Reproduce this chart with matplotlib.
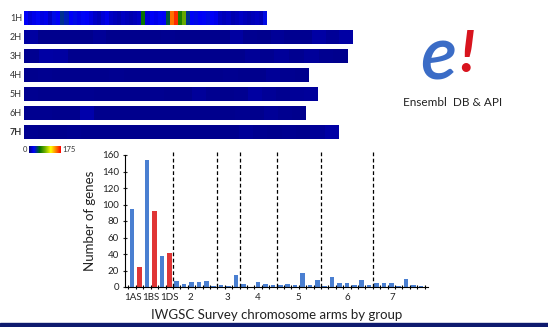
import matplotlib.pyplot as plt
import numpy as np
from matplotlib.cm import ScalarMappable
from matplotlib.colors import LinearSegmentedColormap, Normalize
from matplotlib.patches import Rectangle

plt.rcParams['font.family'] = ['Lato', 'DejaVu Sans']

# gene density strips (bins along each barley chromosome, scale 0-175)
strip_names = ['1H', '2H', '3H', '4H', '5H', '6H', '7H']
strip_lengths = [243, 329, 324, 285, 294, 282, 315]
density_1h = [25, 18, 22, 28, 20, 22, 15, 30, 25, 40, 35, 25, 30, 22, 28, 25, 20, 15, 12, 18,
              22, 15, 12, 10, 14, 12, 10, 12, 15, 60, 18, 25, 22, 28, 25, 50, 150, 165, 65, 85,
              40, 28, 30, 25, 28, 30, 25, 22, 15, 12, 14, 10, 12, 15, 12, 10, 12, 14, 12, 30]
density_2h = [7, 3, 3, 3, 3, 5, 3, 3, 3, 3, 4, 3, 3, 3, 3, 7, 4, 3, 5, 4, 4, 8, 5, 8]
density_3h = [4, 8, 7, 3, 3, 3, 3, 3, 3, 3, 3, 3, 3, 3, 3, 5, 4, 6, 4, 6, 4, 3]
density_4h = [3, 4, 3, 3, 3, 3, 4, 3, 3, 3, 3, 3, 3, 3, 4, 3, 3, 5, 4, 3]
density_5h = [4, 3, 3, 3, 4, 3, 3, 3, 3, 4, 3, 3, 6, 4, 3, 4, 7, 5, 4, 5, 6]
density_6h = [4, 4, 3, 3, 9, 3, 3, 3, 3, 3, 3, 3, 3, 3, 3, 4, 3, 5, 4, 3]
density_7h = [4, 3, 3, 4, 3, 3, 3, 3, 3, 3, 3, 3, 3, 3, 3, 5, 4, 3, 4, 3, 5, 8]
density_max = 175

# genes per IWGSC survey chromosome arm
arm_1d_blue = [95, 154, 38]
arm_1d_red = [24, 92, 41]
group_2 = [7, 4, 6, 6, 7, 1]
group_3 = [2, 1, 14]
group_4 = [4, 0.5, 6, 4, 2]
group_5 = [2, 4, 2, 17, 2, 9]
group_6 = [1, 12, 5, 5, 2, 8, 2]
group_7 = [5, 5, 5, 1, 10, 2, 1]
group_labels = ['1AS', '1BS', '1DS', '2', '3', '4', '5', '6', '7']
group_label_pos = [0.1, 2.45, 5.05, 7.9, 12.9, 16.9, 22.4, 29.1, 35.1]

cmap = LinearSegmentedColormap.from_list(
    'density',
    [(0.0, '#000080'), (0.15, '#0000ff'), (0.33, '#007000'), (0.5, '#70b000'),
     (0.68, '#ffff00'), (0.84, '#ff8000'), (1.0, '#ff0000')],
)
BLUE = '#4a7fd1'
RED = '#e03535'

fig = plt.figure(figsize=(5.48, 3.27), dpi=100)

# overlay in pixel units for the strips, logo and footer band
ax_top = fig.add_axes([0, 0, 1, 1])
densities = [density_1h, density_2h, density_3h, density_4h, density_5h, density_6h, density_7h]
for i, (name, vals, length) in enumerate(zip(strip_names, densities, strip_lengths)):
    top = 11 + 19 * i
    ax_top.imshow(np.array(vals, dtype=float)[None, :], cmap=cmap, vmin=0, vmax=density_max,
                  aspect='auto', interpolation='nearest',
                  extent=(24, 24 + length, top + 14, top))
    ax_top.text(22, top + 7.5, name, ha='right', va='center', fontsize=6.5, color='#333333',
                fontweight='bold' if name == '7H' else 'normal')

ax_top.text(27.5, 149.5, '0', ha='right', va='center', fontsize=5.5, color='#333333')
ax_top.text(62, 149.5, str(density_max), ha='left', va='center', fontsize=5.5, color='#333333')

ax_top.text(438, 58, 'e', ha='center', va='center', fontsize=54, fontstyle='italic',
            fontweight='semibold', color='#3b6cc6')
ax_top.text(467, 56, '!', ha='center', va='center', fontsize=42, fontstyle='italic',
            fontweight='bold', color='#d8141e')
ax_top.text(453, 102, 'Ensembl  DB & API', ha='center', va='center', fontsize=8.5,
            color='#222222')

ax_top.add_patch(Rectangle((0, 323), 548, 4, color='#0e1a6e'))
ax_top.set_xlim(0, 548)
ax_top.set_ylim(327, 0)
ax_top.axis('off')

# colour scale
cax = fig.add_axes([29 / 548, 1 - 153 / 327, 32 / 548, 7 / 327])
cb = fig.colorbar(ScalarMappable(Normalize(0, density_max), cmap), cax=cax,
                  orientation='horizontal')
cb.set_ticks([])
cb.outline.set_visible(False)

# bar chart
ax = fig.add_axes([125 / 548, 1 - 287 / 327, 303 / 548, 132 / 327])
ax.bar(np.arange(0, 6, 2), arm_1d_blue, width=0.62, color=BLUE)
ax.bar(np.arange(1, 6, 2), arm_1d_red, width=0.62, color=RED)

groups = [group_2, group_3, group_4, group_5, group_6, group_7]
start = 6
boundaries = [start - 0.5]
for grp in groups:
    ax.bar(np.arange(start, start + len(grp)), grp, width=0.62, color=BLUE)
    start += len(grp)
    boundaries.append(start - 0.5)

ax.vlines(boundaries[:-1], 0, 164, colors='black', linestyles=(0, (3, 2)), linewidth=0.9,
          clip_on=False)

ax.set_xlim(-0.97, 39.95)
ax.set_ylim(0, 160)
ax.set_yticks(np.arange(0, 161, 20))
ax.set_xticks(group_label_pos)
ax.set_xticklabels(group_labels)
ax.set_xticks(np.arange(-0.5, 40, 1), minor=True)
ax.tick_params(axis='x', which='major', length=0, pad=4, labelsize=7, colors='#222222')
ax.tick_params(axis='x', which='minor', length=3, direction='inout', width=0.8)
ax.tick_params(axis='y', length=3, direction='inout', width=0.8, pad=3, labelsize=7,
               colors='#222222')
for side in ['top', 'right']:
    ax.spines[side].set_visible(False)
ax.spines['left'].set_linewidth(0.8)
ax.spines['bottom'].set_linewidth(0.8)

ax.set_ylabel('Number of genes', fontsize=9.5, color='#222222')
ax.yaxis.set_label_coords(-0.096, 0.5)
ax.set_xlabel('IWGSC Survey chromosome arms by group', fontsize=9.5, color='#222222')
ax.xaxis.set_label_coords(0.5, -0.17)

fig.savefig('out.png', dpi=100)
